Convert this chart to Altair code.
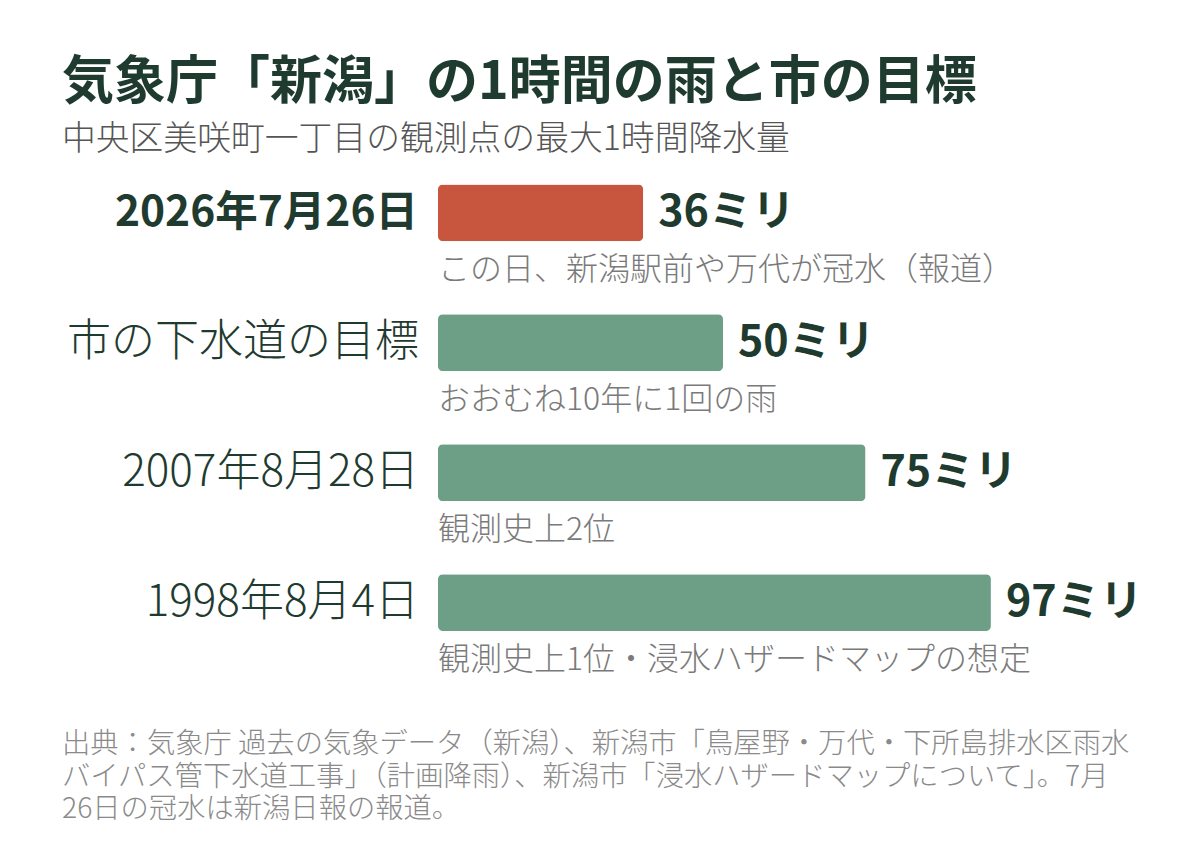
import altair as alt
import pandas as pd

categories = ["2026年7月26日", "市の下水道の目標", "2007年8月28日", "1998年8月4日"]
values = [36, 50, 75, 97]
value_labels = ["36ミリ", "50ミリ", "75ミリ", "97ミリ"]
notes = [
    "この日、新潟駅前や万代が冠水（報道）",
    "おおむね10年に1回の雨",
    "観測史上2位",
    "観測史上1位・浸水ハザードマップの想定",
]
group = ["today", "ref", "ref", "ref"]

title_text = "気象庁「新潟」の1時間の雨と市の目標"
subtitle_text = "中央区美咲町一丁目の観測点の最大1時間降水量"
footer_lines = [
    "出典：気象庁 過去の気象データ（新潟）、新潟市「鳥屋野・万代・下所島排水区雨水",
    "バイパス管下水道工事」（計画降雨）、新潟市「浸水ハザードマップについて」。7月",
    "26日の冠水は新潟日報の報道。",
]

FONT = "Noto Sans CJK JP"
DARK = "#1f3b30"
RED = "#c8553d"
GREEN = "#6c9f86"

df = pd.DataFrame({
    "cat": categories,
    "value": values,
    "vlabel": value_labels,
    "note": notes,
    "grp": group,
})

xscale = alt.Scale(domain=[0, 100], range=[430, 1000])
yscale = alt.Scale(domain=categories, range=[140, 659.5], paddingInner=0.5615, paddingOuter=0.28)

base = alt.Chart(df)

bars = base.mark_bar(cornerRadius=5).encode(
    x=alt.X("value:Q", scale=xscale, axis=None),
    y=alt.Y("cat:N", scale=yscale, axis=None, sort=categories),
    color=alt.Color("grp:N", scale=alt.Scale(domain=["today", "ref"], range=[RED, GREEN]), legend=None),
)

vals = base.mark_text(align="left", baseline="middle", dx=15, font=FONT, fontSize=43,
                      fontWeight="bold", color=DARK).encode(
    x=alt.X("value:Q", scale=xscale),
    y=alt.Y("cat:N", scale=yscale, sort=categories),
    text="vlabel:N",
)

lab_bold = base.transform_filter("datum.grp == 'today'").mark_text(
    align="right", baseline="middle", font=FONT, fontSize=42.5, fontWeight="bold", color=DARK
).encode(
    x=alt.value(410),
    y=alt.Y("cat:N", scale=yscale, sort=categories),
    text="cat:N",
)
lab_reg = base.transform_filter("datum.grp != 'today'").mark_text(
    align="right", baseline="middle", font=FONT, fontSize=44, fontWeight=300, color=DARK
).encode(
    x=alt.value(411),
    y=alt.Y("cat:N", scale=yscale, sort=categories),
    text="cat:N",
)

note_marks = base.mark_text(align="left", baseline="middle", dy=57, font=FONT, fontSize=32,
                            fontWeight=300, color="#7a7a7a").encode(
    x=alt.value(430),
    y=alt.Y("cat:N", scale=yscale, sort=categories),
    text="note:N",
)

title = alt.Chart(pd.DataFrame({"t": [title_text]})).mark_text(
    align="left", baseline="alphabetic", font=FONT, fontSize=52, fontWeight="bold", color=DARK
).encode(x=alt.value(54), y=alt.value(91), text="t:N")

subtitle = alt.Chart(pd.DataFrame({"t": [subtitle_text]})).mark_text(
    align="left", baseline="alphabetic", font=FONT, fontSize=33.8, fontWeight=300, color="#555555"
).encode(x=alt.value(54), y=alt.value(142), text="t:N")

footer = alt.Chart(pd.DataFrame({"t": ["\n".join(footer_lines)]})).mark_text(
    align="left", baseline="middle", font=FONT, fontSize=28.3, fontWeight=300, color="#8a8a8a",
    lineBreak="\n", lineHeight=32.5,
).encode(x=alt.value(54), y=alt.value(737), text="t:N")

chart = alt.layer(title, subtitle, bars, vals, lab_bold, lab_reg, note_marks, footer).properties(
    width=1184, height=846,
    autosize=alt.AutoSizeParams(type="none"),
    padding=0,
    background="white",
).configure_view(stroke=None)

chart.save("out.html", embed_options={"renderer": "svg", "actions": False})
